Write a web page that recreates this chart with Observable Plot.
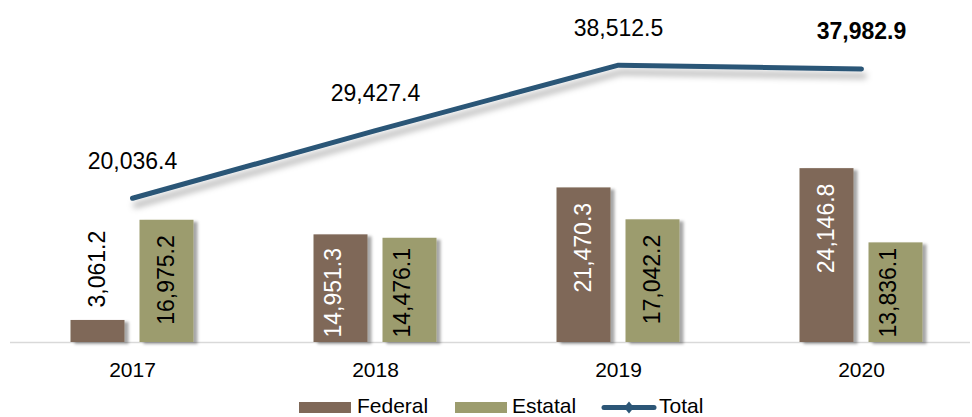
<!DOCTYPE html>
<html><head><meta charset="utf-8">
<script src="https://cdn.jsdelivr.net/npm/d3@7"></script>
<script src="https://cdn.jsdelivr.net/npm/@observablehq/plot@0.6"></script>
<style>
body{margin:0;background:#fff;font-family:"Liberation Sans",Arial,sans-serif;}
#wrap{position:relative;width:972px;height:417px;overflow:hidden;}
#legend{position:absolute;left:0;top:395px;width:972px;height:22px;font-size:21px;line-height:22px;color:#000;white-space:nowrap;}
.lg{position:absolute;top:0;}
</style></head><body>
<div id="wrap"><div id="chart"></div><div id="legend"></div></div>
<script>
const years = ["2017", "2018", "2019", "2020"];
const federal = [3061.2, 14951.3, 21470.3, 24146.8];
const estatal = [16975.2, 14476.1, 17042.2, 13836.1];
const total = [20036.4, 29427.4, 38512.5, 37982.9];
const seriesNames = ["Federal", "Estatal", "Total"];
const colors = {Federal: "#7f6858", Estatal: "#9c9c6e", Total: "#2c5677"};

const fmt = d3.format(",.1f");
const rows = [];
years.forEach((y, i) => {
  rows.push({year: y, series: "Federal", value: federal[i]});
  rows.push({year: y, series: "Estatal", value: estatal[i]});
});
const totRows = years.map((y, i) => ({year: y, value: total[i]}));

const marks = [Plot.ruleY([0], {stroke: "#d9d9d9", strokeWidth: 1.5})];
const offsets = {Federal: -34.5, Estatal: 34.5};
for (const s of ["Federal", "Estatal"]) {
  const data = rows.filter(d => d.series === s);
  const dx = offsets[s];
  const inner = s === "Federal" ? "#ffffff" : "#000000";
  marks.push(Plot.barY(data, {x: "year", y: "value", fill: colors[s], dx}));
  marks.push(Plot.text(data.filter(d => d.value > 16000), {
    x: "year", y: "value", text: d => fmt(d.value), rotate: -90, textAnchor: "end",
    dx, dy: 15, fill: inner, fontSize: 23
  }));
  marks.push(Plot.text(data.filter(d => d.value <= 16000 && d.value > 8000), {
    x: "year", frameAnchor: "bottom", text: d => fmt(d.value), rotate: -90, textAnchor: "start",
    dx, dy: -5, fill: inner, fontSize: 23
  }));
  marks.push(Plot.text(data.filter(d => d.value <= 8000), {
    x: "year", y: "value", text: d => fmt(d.value), rotate: -90, textAnchor: "start",
    dx, dy: -13, fill: "#000", fontSize: 23
  }));
}
marks.push(Plot.lineY(totRows, {x: "year", y: "value", stroke: colors.Total, strokeWidth: 5, strokeLinecap: "round", strokeLinejoin: "round"}));
marks.push(Plot.text(totRows.filter(d => d.year !== "2020"), {x: "year", y: "value", text: d => fmt(d.value), dy: -37, fontSize: 23, fill: "#000"}));
marks.push(Plot.text(totRows.filter(d => d.year === "2020"), {x: "year", y: "value", text: d => fmt(d.value), dy: -37, fontSize: 23, fontWeight: "bold", fill: "#000"}));

const svg = Plot.plot({
  width: 972, height: 392, marginTop: 18, marginBottom: 50, marginLeft: 10, marginRight: 2,
  x: {domain: years, range: [10, 983], paddingInner: 0.778, paddingOuter: 0.389, tickSize: 0, tickPadding: 20, label: null},
  y: {domain: [0, 45000], axis: null},
  style: {fontFamily: '"Liberation Sans", Arial, sans-serif', fontSize: "21px", color: "#000", background: "transparent"},
  marks
});
document.getElementById("chart").appendChild(svg);

const root = d3.select(svg);
const defs = root.insert("defs", ":first-child");
defs.append("filter").attr("id", "bshadow").attr("x", "-20%").attr("y", "-20%").attr("width", "150%").attr("height", "150%")
  .append("feDropShadow").attr("dx", 4).attr("dy", 2).attr("stdDeviation", 1.8).attr("flood-color", "#000").attr("flood-opacity", 0.35);
defs.append("filter").attr("id", "lshadow").attr("x", "-10%").attr("y", "-30%").attr("width", "130%").attr("height", "180%")
  .append("feDropShadow").attr("dx", 3).attr("dy", 7).attr("stdDeviation", 3).attr("flood-color", "#000").attr("flood-opacity", 0.3);
root.selectAll('g[aria-label="bar"]').attr("filter", "url(#bshadow)");
root.selectAll('g[aria-label="line"]').attr("filter", "url(#lshadow)");

// legend
const lg = d3.select("#legend");
const legendPos = [
  {name: seriesNames[0], sx: 299, tx: 357, type: "bar"},
  {name: seriesNames[1], sx: 455, tx: 512, type: "bar"},
  {name: seriesNames[2], sx: 601, tx: 659, type: "line"}
];
for (const it of legendPos) {
  if (it.type === "bar") {
    lg.append("div").attr("class", "lg").style("left", it.sx + "px").style("top", "7px")
      .style("width", "52px").style("height", "11px").style("background", colors[it.name]);
  } else {
    const s = lg.append("svg").attr("class", "lg").style("left", it.sx + "px").style("top", "2px")
      .attr("width", 56).attr("height", 22);
    s.append("line").attr("x1", 3).attr("x2", 53).attr("y1", 10.5).attr("y2", 10.5)
      .attr("stroke", colors.Total).attr("stroke-width", 5).attr("stroke-linecap", "round");
    s.append("path").attr("d", "M28,4.5 L33,10.5 L28,16.5 L23,10.5 Z").attr("fill", colors.Total);
  }
  lg.append("span").attr("class", "lg").style("left", it.tx + "px").text(it.name);
}
</script>
</body></html>
